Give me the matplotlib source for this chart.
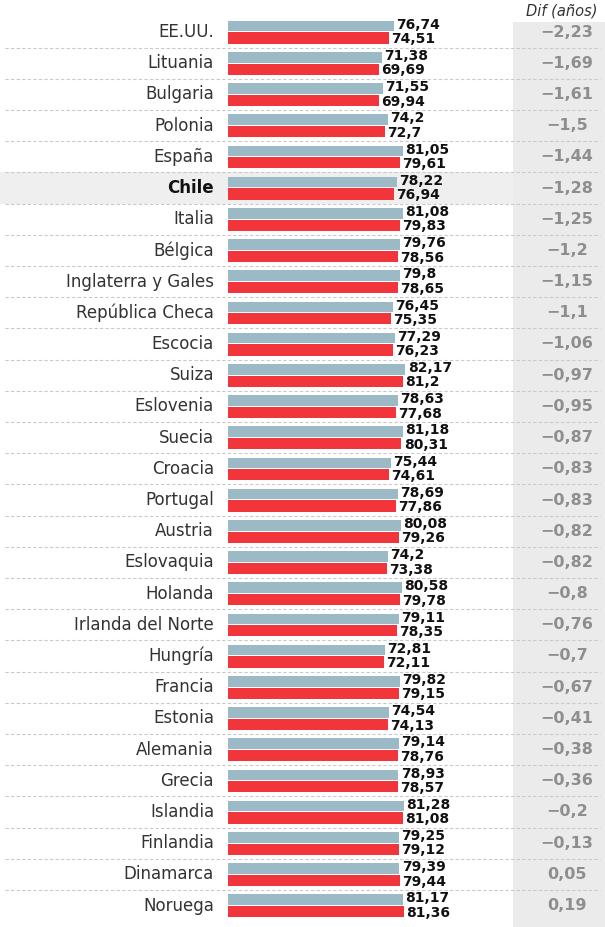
import matplotlib.pyplot as plt
from matplotlib.patches import Rectangle

paises = ["EE.UU.", "Lituania", "Bulgaria", "Polonia", "España", "Chile", "Italia",
          "Bélgica", "Inglaterra y Gales", "República Checa", "Escocia", "Suiza",
          "Eslovenia", "Suecia", "Croacia", "Portugal", "Austria", "Eslovaquia",
          "Holanda", "Irlanda del Norte", "Hungría", "Francia", "Estonia", "Alemania",
          "Grecia", "Islandia", "Finlandia", "Dinamarca", "Noruega"]
antes = [76.74, 71.38, 71.55, 74.2, 81.05, 78.22, 81.08, 79.76, 79.8, 76.45, 77.29,
         82.17, 78.63, 81.18, 75.44, 78.69, 80.08, 74.2, 80.58, 79.11, 72.81, 79.82,
         74.54, 79.14, 78.93, 81.28, 79.25, 79.39, 81.17]
despues = [74.51, 69.69, 69.94, 72.7, 79.61, 76.94, 79.83, 78.56, 78.65, 75.35, 76.23,
           81.2, 77.68, 80.31, 74.61, 77.86, 79.26, 73.38, 79.78, 78.35, 72.11, 79.15,
           74.13, 78.76, 78.57, 81.08, 79.12, 79.44, 81.36]
dif = [-2.23, -1.69, -1.61, -1.5, -1.44, -1.28, -1.25, -1.2, -1.15, -1.1, -1.06,
       -0.97, -0.95, -0.87, -0.83, -0.83, -0.82, -0.82, -0.8, -0.76, -0.7, -0.67,
       -0.41, -0.38, -0.36, -0.2, -0.13, 0.05, 0.19]

AZUL = "#9bbac6"
ROJO = "#f2353a"
W, H = 605, 927
paso = 31.2      # px por fila
y0 = 32          # centro de la primera fila (px)
ylim = ((H - y0) / paso, -y0 / paso)


def fmt(v):
    s = f"{v:g}".replace(".", ",")
    return s.replace("-", "\u2212")


fig = plt.figure(figsize=(W / 100, H / 100), dpi=100)

# fondo, etiquetas y columna de diferencias (x en pixeles)
bg = fig.add_axes([0, 0, 1, 1])
bg.set_xlim(0, W)
bg.set_ylim(*ylim)
bg.axis("off")

n = len(paises)
bg.add_patch(Rectangle((513, (22 - y0) / paso), W - 513, 40, color="#ebebeb", lw=0, zorder=0))
i_chile = paises.index("Chile")
bg.add_patch(Rectangle((0, i_chile - 0.5), 513, 1, color="#efefef", lw=0, zorder=0))

for i in range(n - 1):
    bg.plot([5, 600], [i + 0.5, i + 0.5], color="#c9c9c9", lw=0.8,
            dashes=(3, 2), zorder=1)

for i, p in enumerate(paises):
    es_chile = p == "Chile"
    bg.text(214, i, p, ha="right", va="center", fontsize=12,
            color="#111111" if es_chile else "#333333",
            fontweight="bold" if es_chile else "normal")
    bg.text(567, i, fmt(dif[i]), ha="center", va="center", fontsize=11.5,
            color="#8e8e8e", fontweight="bold")

bg.text(526, (11 - y0) / paso, "Dif (años)", ha="left", va="center",
        fontsize=10.5, style="italic", color="#333333")

# barras
ax = fig.add_axes([228 / W, 0, 1 - 228 / W, 1])
ax.patch.set_alpha(0)
ax.set_xlim(0, (W - 228) / 2.16)
ax.set_ylim(*ylim)
ax.axis("off")

filas = list(range(n))
ax.barh([r - 0.19 for r in filas], antes, height=0.34, color=AZUL)
ax.barh([r + 0.19 for r in filas], despues, height=0.36, color=ROJO)

for i in filas:
    ax.text(antes[i] + 1.0, i - 0.23, fmt(antes[i]), ha="left", va="center",
            fontsize=10, fontweight="bold", color="#111111")
    ax.text(despues[i] + 1.0, i + 0.23, fmt(despues[i]), ha="left", va="center",
            fontsize=10, fontweight="bold", color="#111111")

fig.savefig("out.png", dpi=100)
